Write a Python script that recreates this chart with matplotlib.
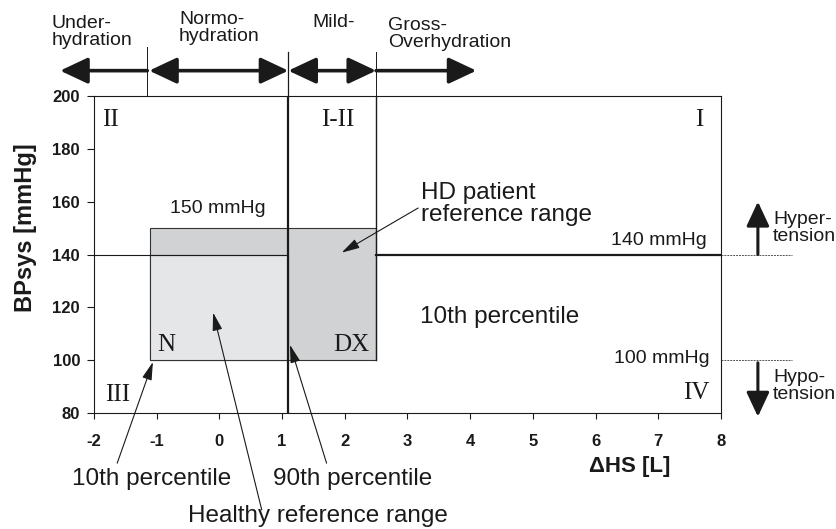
import matplotlib
matplotlib.use("Agg")
from matplotlib import pyplot as plt
from matplotlib.patches import Rectangle

plt.rcParams['font.family'] = ['Liberation Sans', 'DejaVu Sans']

# axis ranges and ticks
x_ticks = list(range(-2, 9))
y_ticks = [80, 100, 120, 140, 160, 180, 200]

# reference ranges (dHS in L, BPsys in mmHg)
healthy_x = [-1.1, 1.1]
healthy_y = [100, 140]
hd_x = [-1.1, 2.5]
hd_y = [100, 150]
bp_hyper = 140
bp_hypo = 100
bp_hd_upper = 150
hydration_bounds = [-1.15, 1.1, 2.5]

ink = '#1a1a1a'
serif = 'Liberation Serif'

fig = plt.figure(figsize=(8.37, 5.29), dpi=100)
ax = fig.add_axes([0.1123, 0.2193, 0.749, 0.5992])
ax.set_xlim(-2, 8)
ax.set_ylim(80, 200)

# shaded reference boxes
ax.add_patch(Rectangle((hd_x[0], hd_y[0]), hd_x[1] - hd_x[0], hd_y[1] - hd_y[0],
                       facecolor='#d1d2d4', edgecolor='#333333', lw=0.8, zorder=1))
ax.add_patch(Rectangle((healthy_x[0], healthy_y[0]), healthy_x[1] - healthy_x[0],
                       healthy_y[1] - healthy_y[0],
                       facecolor='#e5e6e8', edgecolor='#333333', lw=0.8, zorder=2))

# quadrant lines
ax.plot([-2, healthy_x[1]], [bp_hyper, bp_hyper], color=ink, lw=0.8, zorder=3)
ax.plot([hd_x[1], 8], [bp_hyper, bp_hyper], color=ink, lw=1.6, zorder=3)
ax.plot([healthy_x[1], healthy_x[1]], [80, 200], color=ink, lw=1.6, zorder=3)
ax.plot([hd_x[1], hd_x[1]], [hd_y[0], 200], color=ink, lw=1.0, zorder=3)

# dotted threshold extensions outside the axes
for bp in (bp_hyper, bp_hypo):
    ax.plot([8, 9.13], [bp, bp], color='#555555', lw=0.7, ls=(0, (2, 1)),
            clip_on=False)

# hydration header
hy = 209.6
ax.plot([hydration_bounds[0]] * 2, [200, 218.5], color=ink, lw=0.7, clip_on=False)
ax.plot([hydration_bounds[1]] * 2, [200, 216.5], color=ink, lw=0.9, clip_on=False)
ax.plot([hydration_bounds[2]] * 2, [200, 216.8], color=ink, lw=0.7, clip_on=False)

def big_arrow(x0, y0, x1, y1, style):
    ax.annotate('', xy=(x1, y1), xytext=(x0, y0), annotation_clip=False,
                arrowprops=dict(arrowstyle=style + ',head_length=1.7,head_width=0.8',
                                color=ink, lw=2.6, shrinkA=0, shrinkB=0,
                                mutation_scale=10))

big_arrow(hydration_bounds[0], hy, -2.54, hy, '-|>')
big_arrow(hydration_bounds[0] + 0.03, hy, hydration_bounds[1], hy, '<|-|>')
big_arrow(hydration_bounds[1], hy, hydration_bounds[2], hy, '<|-|>')
big_arrow(hydration_bounds[2], hy, 4.1, hy, '-|>')

hdr = dict(fontsize=14, ha='left', va='center', color=ink, linespacing=1.0)
ax.text(-2.675, 224.1, 'Under-\nhydration', **hdr)
ax.text(-0.644, 225.8, 'Normo-\nhydration', **hdr)
ax.text(1.49, 227.8, 'Mild-', **hdr)
ax.text(2.69, 223.5, 'Gross-\nOverhydration', **hdr)

# blood pressure arrows on the right
def bp_arrow(y0, y1):
    ax.annotate('', xy=(8.59, y1), xytext=(8.59, y0), annotation_clip=False,
                arrowprops=dict(arrowstyle='-|>,head_length=1.5,head_width=0.7',
                                color=ink, lw=2.2, shrinkA=0, shrinkB=0,
                                mutation_scale=10))

bp_arrow(bp_hyper, 160)
bp_arrow(99, 78.6)
ax.text(8.83, 150.2, 'Hyper-\ntension', fontsize=14, ha='left', va='center',
        color=ink, linespacing=1.0)
ax.text(8.83, 90.3, 'Hypo-\ntension', fontsize=14, ha='left', va='center',
        color=ink, linespacing=1.0)

# quadrant labels
rom = dict(fontsize=18, family=serif, color=ink, va='center', ha='center')
ax.text(-1.74, 191, 'II', **rom)
ax.text(1.89, 191, 'I-II', **rom)
ax.text(7.66, 191, 'I', **rom)
ax.text(-1.62, 86.8, 'III', **rom)
ax.text(7.6, 87.6, 'IV', **rom)
ax.text(-0.84, 105.8, 'N', **rom)
ax.text(2.11, 105.8, 'DX', **rom)

# threshold labels
ax.text(-0.02, 157.6, '%d mmHg' % bp_hd_upper, fontsize=14, ha='center', va='center', color=ink)
ax.text(7.78, 145.3, '%d mmHg' % bp_hyper, fontsize=14, ha='right', va='center', color=ink)
ax.text(7.82, 100.5, '%d mmHg' % bp_hypo, fontsize=14, ha='right', va='center', color=ink)

ax.text(3.2, 116.5, '10th percentile', fontsize=17.5, ha='left', va='center', color=ink)
ax.text(3.22, 159.2, 'HD patient\nreference range', fontsize=17.5, ha='left',
        va='center', color=ink, linespacing=1.0)

def pointer(text, xy, xytext, **kw):
    ax.annotate(text, xy=xy, xytext=xytext, annotation_clip=False,
                fontsize=17.5, color=ink, ha='center', va='center',
                arrowprops=dict(arrowstyle='-|>,head_length=1.1,head_width=0.3',
                                color=ink, lw=0.8, shrinkA=0, shrinkB=0,
                                mutation_scale=10), **kw)

pointer('', (1.95, 140.7), (3.17, 157.6))
pointer('', (-1.06, 99.3), (-1.63, 61))
pointer('', (-0.1, 118), (0.676, 43.3))
pointer('', (1.126, 105.8), (1.71, 61))

ax.text(-1.08, 55, '10th percentile', fontsize=17.5, ha='center', va='center', color=ink, clip_on=False)
ax.text(2.13, 55, '90th percentile', fontsize=17.5, ha='center', va='center', color=ink, clip_on=False)
ax.text(1.58, 41, 'Healthy reference range', fontsize=17.5, ha='center', va='center', color=ink, clip_on=False)

# axes styling
ax.set_xticks(x_ticks)
ax.set_yticks(y_ticks)
ax.set_xticklabels([str(t) for t in x_ticks], fontweight='bold', fontsize=12)
ax.set_yticklabels([str(t) for t in y_ticks], fontweight='bold', fontsize=12)
ax.tick_params(axis='x', direction='out', length=4, width=0.8, pad=11, colors=ink)
ax.tick_params(axis='y', direction='out', length=5, width=0.8, pad=5, colors=ink)
for sp in ax.spines.values():
    sp.set_linewidth(0.8)
    sp.set_color(ink)

ax.set_ylabel('BPsys [mmHg]', fontsize=17, fontweight='bold', va='center', color=ink)
ax.yaxis.set_label_coords(-0.110, 0.584)
ax.set_xlabel('ΔHS [L]', fontsize=16, fontweight='bold', va='center', color=ink)
ax.xaxis.set_label_coords(0.854, -0.170)

fig.savefig('out.png', dpi=100)
